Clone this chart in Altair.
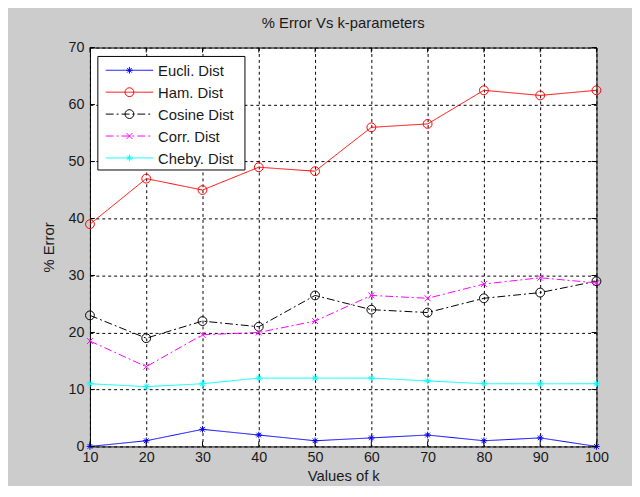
import altair as alt
import pandas as pd

# ---- data ----
k_values = [10, 20, 30, 40, 50, 60, 70, 80, 90, 100]
series_names = ["Eucli. Dist", "Ham. Dist", "Cosine Dist", "Corr. Dist", "Cheby. Dist"]
eucli = [0, 1, 3, 2, 1, 1.5, 2, 1, 1.5, 0]
ham = [39, 47, 45, 49, 48.3, 56, 56.6, 62.5, 61.6, 62.5]
cosine = [23, 19, 22, 21, 26.5, 24, 23.5, 26, 27, 29]
corr = [18.5, 14, 19.6, 20, 22, 26.5, 26, 28.5, 29.6, 28.7]
cheby = [11, 10.5, 11, 12, 12, 12, 11.5, 11, 11, 11]
x_ticks = [10, 20, 30, 40, 50, 60, 70, 80, 90, 100]
y_ticks = [0, 10, 20, 30, 40, 50, 60, 70]

# ---- styles ----
ASTERISK = "M-1,0L1,0M0,-1L0,1M-0.7,-0.7L0.7,0.7M-0.7,0.7L0.7,-0.7"
XMARK = "M-1,-1L1,1M-1,1L1,-1"
colors = ["#0000ff", "#ff0000", "#000000", "#ff00ff", "#00ffff"]
dashes = [[1, 0], [1, 0], [8, 3, 2, 3], [8, 3, 2, 3], [1, 0]]
shapes = [ASTERISK, "circle", "circle", XMARK, ASTERISK]
sizes = [45, 80, 80, 36, 45]
values = [eucli, ham, cosine, corr, cheby]

W, H = 513, 404
FONT = "Liberation Sans"
TXT = "#1a1a1a"
FS = 15
FS_TICK = 14.5

xscale = alt.Scale(domain=[10, 100], nice=False)
yscale = alt.Scale(domain=[0, 70], nice=False)

xaxis = alt.Axis(values=x_ticks, format="d", grid=True, gridDash=[3, 3], gridColor="black",
                 gridOpacity=1, gridWidth=1, domain=False, ticks=False, labelPadding=4,
                 labelFlush=False, labelFontSize=FS_TICK, labelFont=FONT, labelColor=TXT,
                 title="Values of k", titleFont=FONT, titleFontSize=FS,
                 titleFontWeight="normal", titleColor=TXT, titlePadding=5)
yaxis = alt.Axis(values=y_ticks, format="d", grid=True, gridDash=[3, 3], gridColor="black",
                 gridOpacity=1, gridWidth=1, domain=False, ticks=False, labelPadding=6,
                 labelFlush=False, labelFontSize=FS_TICK, labelFont=FONT, labelColor=TXT,
                 title="% Error", titleFont=FONT, titleFontSize=FS,
                 titleFontWeight="normal", titleColor=TXT, titlePadding=12)


def X():
    return alt.X("k:Q", scale=xscale, axis=xaxis)


def Y():
    return alt.Y("v:Q", scale=yscale, axis=yaxis)


layers = []
for i, name in enumerate(series_names):
    df = pd.DataFrame({"k": k_values, "v": values[i]})
    line = alt.Chart(df).mark_line(color=colors[i], strokeWidth=1, strokeDash=dashes[i]).encode(
        x=X(), y=Y())
    pts = alt.Chart(df).mark_point(filled=False, color=colors[i], strokeWidth=1,
                                   shape=shapes[i], size=sizes[i], opacity=1).encode(
        x=X(), y=Y())
    layers += [line, pts]

# inward ticks (MATLAB style) on all four sides
xt = pd.DataFrame({"k": x_ticks})
yt = pd.DataFrame({"v": y_ticks})
layers.append(alt.Chart(xt).mark_rule(color="black", strokeWidth=1).encode(
    x=X(), y=alt.value(H), y2=alt.value(H - 5)))
layers.append(alt.Chart(xt).mark_rule(color="black", strokeWidth=1).encode(
    x=X(), y=alt.value(0), y2=alt.value(5)))
layers.append(alt.Chart(yt).mark_rule(color="black", strokeWidth=1).encode(
    y=Y(), x=alt.value(0), x2=alt.value(5)))
layers.append(alt.Chart(yt).mark_rule(color="black", strokeWidth=1).encode(
    y=Y(), x=alt.value(W), x2=alt.value(W - 5)))

# legend box
one = pd.DataFrame({"a": [0]})
layers.append(alt.Chart(one).mark_rect(fill="white", stroke="black", strokeWidth=1).encode(
    x=alt.value(8), x2=alt.value(157), y=alt.value(9), y2=alt.value(124)))
for i, name in enumerate(series_names):
    yy = 23 + 22.2 * i
    layers.append(alt.Chart(one).mark_rule(color=colors[i], strokeWidth=1, strokeDash=dashes[i]).encode(
        x=alt.value(16), x2=alt.value(64), y=alt.value(yy)))
    layers.append(alt.Chart(one).mark_point(filled=False, color=colors[i], strokeWidth=1,
                                            shape=shapes[i], size=sizes[i], opacity=1).encode(
        x=alt.value(40), y=alt.value(yy)))
    layers.append(alt.Chart(one).mark_text(align="left", baseline="middle", font=FONT,
                                           fontSize=FS, color=TXT).encode(
        x=alt.value(69), y=alt.value(yy + 1), text=alt.value(name)))

chart = alt.layer(*layers).properties(
    width=W, height=H,
    title=alt.TitleParams("% Error Vs k-parameters", font=FONT, fontSize=FS,
                          fontWeight="normal", color=TXT, offset=9, anchor="middle"),
    autosize=alt.AutoSizeParams(type="none"),
    padding={"left": 83, "top": 37, "right": 36, "bottom": 37},
    background="#cccccc",
).configure_view(fill="white", stroke="black", strokeWidth=1)

chart.save("out.html", embed_options={"renderer": "svg", "actions": False})
